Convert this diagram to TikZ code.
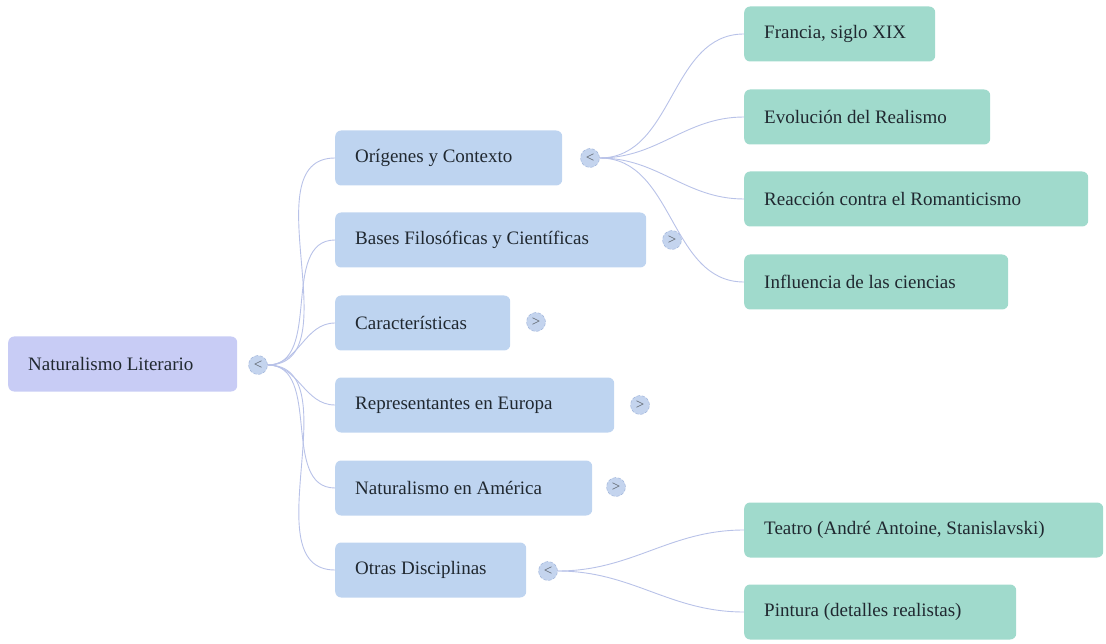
\documentclass[tikz,border=0pt]{standalone}
\usepackage{fontspec}
\setmainfont{Liberation Serif}
\usepackage{tikz}
\definecolor{rootfill}{RGB}{200,204,245}
\definecolor{secfill}{RGB}{190,212,240}
\definecolor{leaffill}{RGB}{160,218,204}
\definecolor{togfill}{RGB}{196,212,238}
\definecolor{togdraw}{RGB}{150,172,214}
\definecolor{linkcol}{RGB}{184,194,232}
\definecolor{ink}{RGB}{32,40,48}

\begin{document}
\begin{tikzpicture}[x=1pt,y=-1pt,
  box/.style={rounded corners=6pt,anchor=west,minimum height=55pt,inner xsep=20pt,align=flush left,font=\fontsize{19}{23}\selectfont,text=ink},
  toggle/.style={circle,fill=togfill,draw=togdraw,densely dashed,minimum size=19pt,inner sep=0pt,font=\fontsize{15}{15}\selectfont,text=ink!75},
  link/.style={draw=linkcol,line width=0.9pt}]
\useasboundingbox (0,0) rectangle (1106,644);
\node[box,fill=rootfill,text width=189pt] (root) at (8,364){Naturalismo Literario};
\node[toggle] (troot) at (258,365){<};
\node[box,fill=secfill,text width=187pt] (orig) at (335,158){Orígenes y Contexto};
\node[box,fill=secfill,text width=271pt] (bases) at (335,240){Bases Filosóficas y Científicas};
\node[box,fill=secfill,text width=135pt] (carac) at (335,323){Características};
\node[box,fill=secfill,text width=239pt] (repr) at (335,405){Representantes en Europa};
\node[box,fill=secfill,text width=217pt] (amer) at (335,488){Naturalismo en América};
\node[box,fill=secfill,text width=151pt] (otras) at (335,570){Otras Disciplinas};
\node[toggle] (torig) at (590,158){<};
\node[toggle] (tbases) at (672,240){>};
\node[toggle] (tcarac) at (536,322){>};
\node[toggle] (trepr) at (640,405){>};
\node[toggle] (tamer) at (616,487){>};
\node[toggle] (totras) at (548,571){<};
\node[box,fill=leaffill,text width=151pt] (fran) at (744,34){Francia, siglo XIX};
\node[box,fill=leaffill,text width=206pt] (evol) at (744,117){Evolución del Realismo};
\node[box,fill=leaffill,text width=304pt] (reac) at (744,199){Reacción contra el Romanticismo};
\node[box,fill=leaffill,text width=224pt] (infl) at (744,282){Influencia de las ciencias};
\node[box,fill=leaffill,text width=319pt] (teat) at (744,530){Teatro (André Antoine, Stanislavski)};
\node[box,fill=leaffill,text width=232pt] (pint) at (744,612){Pintura (detalles realistas)};
% root branches
\draw[link] (troot.east) to[out=0,in=180] (orig.west);
\draw[link] (troot.east) to[out=0,in=180] (bases.west);
\draw[link] (troot.east) to[out=0,in=180] (carac.west);
\draw[link] (troot.east) to[out=0,in=180] (repr.west);
\draw[link] (troot.east) to[out=0,in=180] (amer.west);
\draw[link] (troot.east) to[out=0,in=180] (otras.west);
% origins
\draw[link] (torig.east) to[out=0,in=180] (fran.west);
\draw[link] (torig.east) to[out=0,in=180] (evol.west);
\draw[link] (torig.east) to[out=0,in=180] (reac.west);
\draw[link] (torig.east) to[out=0,in=180] (infl.west);
% other disciplines
\draw[link] (totras.east) to[out=0,in=180] (teat.west);
\draw[link] (totras.east) to[out=0,in=180] (pint.west);
\end{tikzpicture}
\end{document}
